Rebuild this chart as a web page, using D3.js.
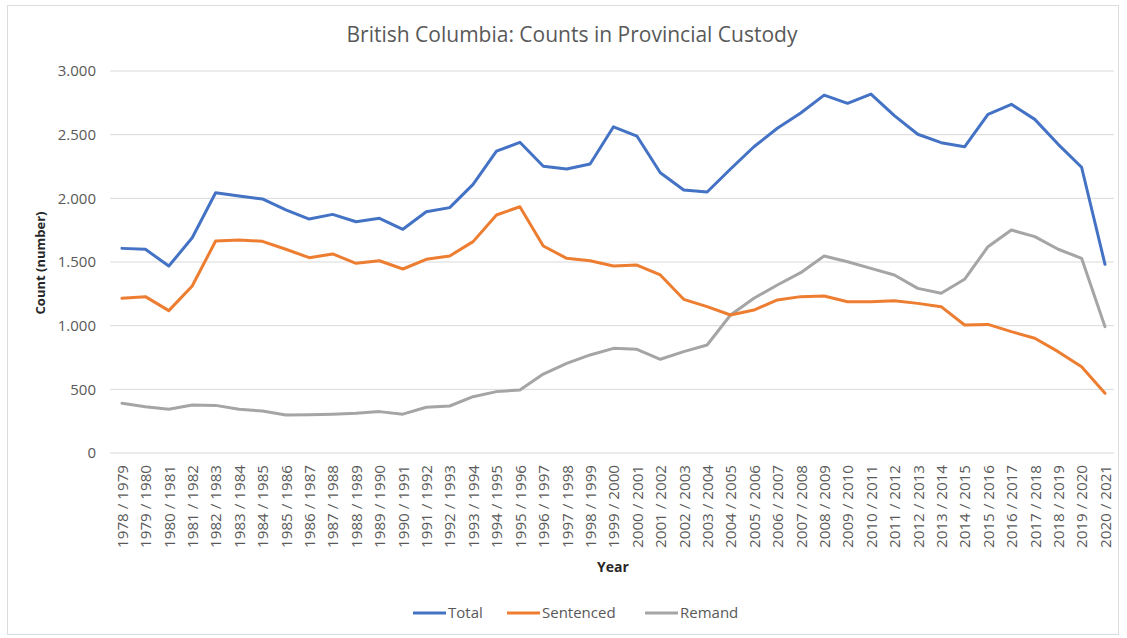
<!DOCTYPE html>
<html><head><meta charset="utf-8">
<script src="https://cdn.jsdelivr.net/npm/d3@7"></script>
<style>html,body{margin:0;padding:0;background:#fff;}svg{display:block;font-family:"Open Sans","Noto Sans",sans-serif;}</style>
</head><body>
<svg id="chart" width="1127" height="638"></svg>
<script>
const categories = ["1978 / 1979","1979 / 1980","1980 / 1981","1981 / 1982","1982 / 1983","1983 / 1984","1984 / 1985","1985 / 1986","1986 / 1987","1987 / 1988","1988 / 1989","1989 / 1990","1990 / 1991","1991 / 1992","1992 / 1993","1993 / 1994","1994 / 1995","1995 / 1996","1996 / 1997","1997 / 1998","1998 / 1999","1999 / 2000","2000 / 2001","2001 / 2002","2002 / 2003","2003 / 2004","2004 / 2005","2005 / 2006","2006 / 2007","2007 / 2008","2008 / 2009","2009 / 2010","2010 / 2011","2011 / 2012","2012 / 2013","2013 / 2014","2014 / 2015","2015 / 2016","2016 / 2017","2017 / 2018","2018 / 2019","2019 / 2020","2020 / 2021"];
const total = [1607,1600,1468,1690,2044,2018,1995,1910,1837,1874,1816,1843,1757,1895,1927,2110,2370,2440,2252,2230,2270,2562,2489,2201,2065,2050,2230,2405,2550,2670,2811,2746,2819,2650,2503,2437,2405,2660,2738,2620,2424,2244,1482];
const sentenced = [1215,1228,1118,1311,1665,1673,1662,1600,1534,1563,1490,1510,1445,1521,1547,1660,1869,1934,1626,1529,1510,1468,1476,1398,1207,1149,1084,1123,1202,1228,1233,1188,1188,1196,1175,1149,1005,1010,953,901,796,678,469];
const remand = [390,364,343,377,374,343,330,298,300,305,312,325,305,359,369,442,482,495,620,704,770,822,814,736,796,848,1084,1215,1319,1416,1547,1502,1450,1398,1293,1254,1364,1620,1751,1699,1600,1529,992];
const yTicks = [0,500,1000,1500,2000,2500,3000];
const seriesNames = ["Total","Sentenced","Remand"];
const seriesColors = ["#4472C4","#ED7D31","#A5A5A5"];

const svg = d3.select("#chart");
svg.append("rect").attr("x",7.5).attr("y",5.5).attr("width",1111).attr("height",629)
  .attr("fill","#fff").attr("stroke","#dcdcdc");

const x = d3.scalePoint().domain(categories).range([110.3,1116.7]).padding(0.5);
const y = d3.scaleLinear().domain([0,3000]).range([453,71]);

// gridlines
svg.append("g").selectAll("line").data(yTicks).join("line")
  .attr("x1",110).attr("x2",1114)
  .attr("y1",d=>y(d)).attr("y2",d=>y(d))
  .attr("stroke","#d9d9d9").attr("stroke-width",1);

// y axis labels
const yAxis = d3.axisLeft(y).tickValues(yTicks).tickSize(0).tickPadding(0)
  .tickFormat(d=>d3.format(",")(d).replace(/,/g,"."));
const gy = svg.append("g").attr("transform","translate(96,0)").call(yAxis);
gy.select(".domain").remove();
gy.selectAll("text").attr("font-size",15).attr("fill","#595959")
  .attr("font-family","'Open Sans',sans-serif");

// x axis labels
const xAxis = d3.axisBottom(x).tickSize(0).tickPadding(0);
const gx = svg.append("g").attr("transform","translate(0,465)").call(xAxis);
gx.select(".domain").remove();
gx.selectAll("text").attr("font-size",15.2).attr("fill","#595959")
  .attr("font-family","'Open Sans',sans-serif")
  .attr("transform","rotate(-90)").attr("text-anchor","end")
  .attr("x",0).attr("y",0).attr("dy","0.35em");

// lines
const allSeries = [total,sentenced,remand];
const line = d3.line().x((d,i)=>x(categories[i])).y(d=>y(d));
svg.append("g").selectAll("path").data([remand,sentenced,total]).join("path")
  .attr("d",line).attr("fill","none")
  .attr("stroke",d=>seriesColors[allSeries.indexOf(d)])
  .attr("stroke-width",3).attr("stroke-linejoin","round").attr("stroke-linecap","round");

// title
svg.append("text").attr("x",572).attr("y",42).attr("text-anchor","middle")
  .attr("font-size",21).attr("fill","#595959").text("British Columbia: Counts in Provincial Custody");

// axis titles
svg.append("text").attr("transform","translate(45,263) rotate(-90)").attr("text-anchor","middle")
  .attr("font-size",13).attr("font-weight","bold").attr("fill","#262626").text("Count (number)");
svg.append("text").attr("x",613).attr("y",572).attr("text-anchor","middle")
  .attr("font-size",14).attr("font-weight","bold").attr("fill","#262626").text("Year");

// legend
const legendX = [413,507,645];
const lg = svg.append("g").selectAll("g").data(seriesNames).join("g")
  .attr("transform",(d,i)=>`translate(${legendX[i]},613)`);
lg.append("line").attr("x1",0).attr("x2",33).attr("y1",0).attr("y2",0)
  .attr("stroke",(d,i)=>seriesColors[i]).attr("stroke-width",3);
lg.append("text").attr("x",35).attr("y",0).attr("dy","0.35em")
  .attr("font-size",15).attr("fill","#595959").text(d=>d);
</script>
</body></html>
